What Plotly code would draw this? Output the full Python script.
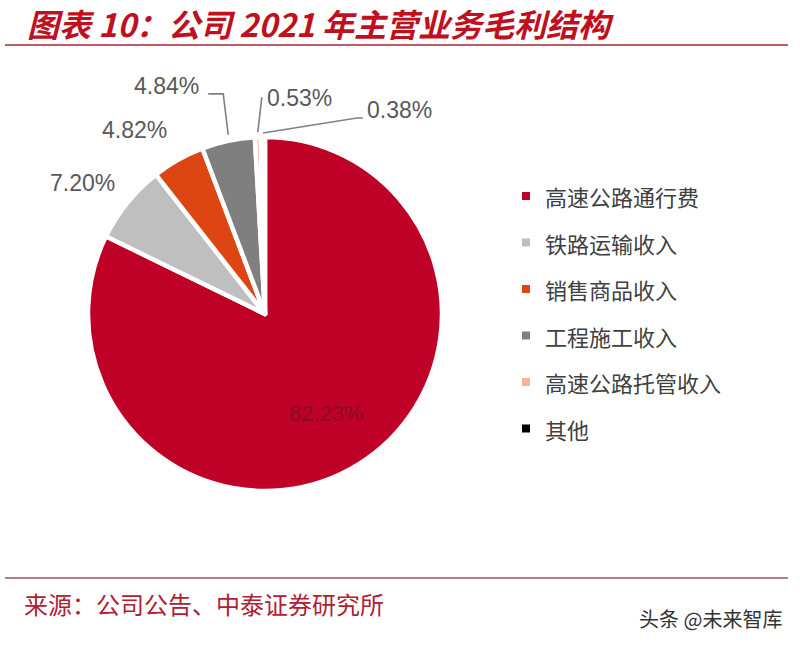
import math
import plotly.graph_objects as go

# ---- data ----
categories = ["高速公路通行费", "铁路运输收入", "销售商品收入", "工程施工收入", "高速公路托管收入", "其他"]
values = [82.23, 7.20, 4.82, 4.84, 0.53, 0.38]
value_labels = ["82.23%", "7.20%", "4.82%", "4.84%", "0.53%", "0.38%"]
colors = ["#BF0027", "#BFBFBF", "#DD4512", "#7F7F7F", "#F4B49A", "#000000"]

title_text = "图表 10：公司 2021 年主营业务毛利结构"
source_text = "来源：公司公告、中泰证券研究所"
watermark_text = "头条 @未来智库"

W, H = 800, 646
CX, CY, R = 265, 314, 177

def px(x):
    return x / W

def py(y):
    return 1 - y / H

fig = go.Figure()
fig.add_trace(go.Pie(
    labels=categories, values=values, sort=False, direction="clockwise",
    rotation=0, marker=dict(colors=colors, line=dict(color="white", width=4.5)),
    textinfo="none", hoverinfo="label+percent", showlegend=False,
    domain=dict(x=[px(CX - R), px(CX + R)], y=[py(CY + R), py(CY - R)]),
))

# label styles (offsets from the slice's outer-edge midpoint, pixels)
label_style = [
    dict(r=0.66, off=None, leader=None),
    dict(off=(-45, -20), leader=None),
    dict(off=(-44, -30), leader=None),
    dict(off=(-62, -55), leader=[(0, -6), (-5, -47), (-20, -47)]),
    dict(off=(42, -39), leader=[(0, -5), (4, -40)]),
    dict(off=(137, -27), leader=[(0, -4), (94, -19), (100, -19)]),
]

total = sum(values)
cum = 0.0
annotations = []
shapes = []
for i, v in enumerate(values):
    mid = (cum + v / 2) / total * 2 * math.pi
    cum += v
    st = label_style[i]
    if st.get("off") is None:
        lx = CX + st["r"] * R * math.sin(mid)
        ly = CY - st["r"] * R * math.cos(mid)
        annotations.append(dict(x=px(lx), y=py(ly), xref="paper", yref="paper",
                                xanchor="center", yanchor="middle",
                                text=value_labels[i], showarrow=False,
                                font=dict(family="Liberation Sans, Arial", size=22, color="#8E0A22")))
        continue
    ax = CX + R * math.sin(mid)
    ay = CY - R * math.cos(mid)
    annotations.append(dict(x=px(ax + st["off"][0]), y=py(ay + st["off"][1]),
                            xref="paper", yref="paper", xanchor="center", yanchor="middle",
                            text=value_labels[i], showarrow=False,
                            font=dict(family="Liberation Sans, Arial", size=23, color="#595959")))
    if st["leader"]:
        pts = [(ax + dx, ay + dy) for dx, dy in st["leader"]]
        path = "M " + " L ".join(f"{px(x)} {py(y)}" for x, y in pts)
        shapes.append(dict(type="path", path=path, xref="paper", yref="paper",
                           line=dict(color="#808080", width=1.6)))

# legend (manual)
leg_x, leg_y0, leg_dy = 526, 196, 46.5
for i, c in enumerate(categories):
    yy = leg_y0 + i * leg_dy
    shapes.append(dict(type="rect", xref="paper", yref="paper",
                       x0=px(leg_x - 4), x1=px(leg_x + 4), y0=py(yy + 4), y1=py(yy - 4),
                       fillcolor=colors[i], line=dict(width=0)))
    annotations.append(dict(x=px(543), y=py(yy), xref="paper", yref="paper",
                            xanchor="left", yanchor="middle", text=c, showarrow=False,
                            font=dict(family="Noto Sans CJK SC", size=22, color="#404040")))

# title, source, watermark
annotations.append(dict(x=px(25), y=py(23), xref="paper", yref="paper", xanchor="left",
                        yanchor="middle", text=f"<b><i>{title_text}</i></b>", showarrow=False,
                        font=dict(family="Noto Sans CJK SC", size=32, color="#C0101E")))
annotations.append(dict(x=px(22), y=py(603), xref="paper", yref="paper", xanchor="left",
                        yanchor="middle", text=source_text, showarrow=False,
                        font=dict(family="Noto Sans CJK SC", size=24, color="#B02030")))
annotations.append(dict(x=px(784), y=py(618), xref="paper", yref="paper", xanchor="right",
                        yanchor="middle", text=watermark_text, showarrow=False,
                        font=dict(family="Noto Sans CJK SC", size=20, color="#333333")))
shapes.append(dict(type="line", xref="paper", yref="paper", x0=px(5), x1=px(788),
                   y0=py(45), y1=py(45), line=dict(color="#A8262C", width=1.5)))
shapes.append(dict(type="line", xref="paper", yref="paper", x0=px(5), x1=px(788),
                   y0=py(578), y1=py(578), line=dict(color="#A05060", width=1.5)))

fig.update_layout(width=W, height=H, margin=dict(l=0, r=0, t=0, b=0),
                  paper_bgcolor="white", plot_bgcolor="white",
                  annotations=annotations, shapes=shapes, showlegend=False)
fig.write_html("out.html")
